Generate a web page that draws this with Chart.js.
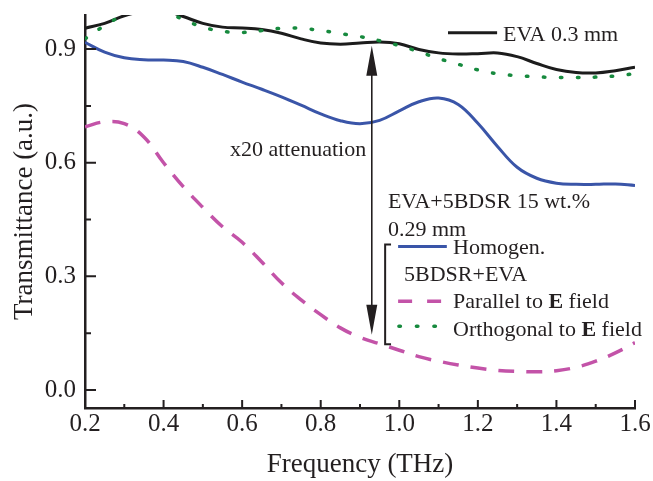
<!DOCTYPE html>
<html>
<head>
<meta charset="utf-8">
<script src="https://cdn.jsdelivr.net/npm/chart.js@4/dist/chart.umd.min.js"></script>
<style>
  html, body { margin: 0; padding: 0; background: #fff; }
  #wrap { width: 653px; height: 481px; }
</style>
</head>
<body>
<div id="wrap"><canvas id="c" width="653" height="481"></canvas></div>
<script>
// Frequency grid (THz)
const freq = [0.20, 0.25, 0.30, 0.35, 0.40, 0.45, 0.50, 0.55, 0.60, 0.65,
              0.70, 0.75, 0.80, 0.85, 0.90, 0.95, 1.00, 1.05, 1.10, 1.15,
              1.20, 1.25, 1.30, 1.35, 1.40, 1.45, 1.50, 1.55, 1.60];

// Pure EVA film, 0.3 mm
const evaFilm = [0.955, 0.968, 0.988, 1.000, 1.002, 0.986, 0.968, 0.958, 0.956, 0.952,
                 0.942, 0.927, 0.916, 0.913, 0.916, 0.919, 0.914, 0.899, 0.890, 0.887,
                 0.888, 0.890, 0.880, 0.862, 0.846, 0.838, 0.837, 0.843, 0.852];

// EVA + 5BDSR 15 wt.%, homogeneous
const homogen = [0.918, 0.892, 0.877, 0.872, 0.871, 0.867, 0.852, 0.833, 0.813, 0.794,
                 0.774, 0.752, 0.729, 0.711, 0.703, 0.712, 0.737, 0.761, 0.771, 0.754,
                 0.704, 0.643, 0.588, 0.559, 0.546, 0.543, 0.543, 0.544, 0.540];

// Oriented sample, polarisation parallel to E field (x20 attenuation)
const parallelE = [0.695, 0.708, 0.703, 0.668, 0.600, 0.537, 0.482, 0.431, 0.390, 0.338,
                   0.283, 0.238, 0.199, 0.164, 0.139, 0.122, 0.105, 0.088, 0.076, 0.066,
                   0.058, 0.052, 0.049, 0.048, 0.051, 0.060, 0.076, 0.098, 0.125];

// Oriented sample, polarisation orthogonal to E field
const orthogonalE = [0.927, 0.962, 0.990, 1.005, 1.000, 0.978, 0.958, 0.947, 0.944, 0.949,
                     0.955, 0.955, 0.949, 0.941, 0.933, 0.922, 0.909, 0.893, 0.875, 0.860,
                     0.845, 0.835, 0.830, 0.827, 0.825, 0.825, 0.826, 0.829, 0.835];

// Axis tick labels
const xTicks = [0.2, 0.4, 0.6, 0.8, 1.0, 1.2, 1.4, 1.6];
const yTicks = [0.0, 0.3, 0.6, 0.9];

const SERIF = "'Liberation Serif', 'Times New Roman', Times, serif";
const INK = '#231f20';

const toPoints = ys => freq.map((f, i) => ({ x: f, y: ys[i] }));

const lineBase = { pointRadius: 0, pointHoverRadius: 0, fill: false, tension: 0.4 };

const datasets = [
  Object.assign({ label: 'EVA 0.3 mm', data: toPoints(evaFilm),
    borderColor: '#1c1c1c', borderWidth: 3, order: 2,
    legendDash: [] }, lineBase),
  Object.assign({ label: 'Homogen. 5BDSR+EVA', data: toPoints(homogen),
    borderColor: '#3a55a8', borderWidth: 3, order: 3,
    legendDash: [] }, lineBase),
  Object.assign({ label: 'Parallel to E field', data: toPoints(parallelE),
    borderColor: '#c353a8', borderWidth: 3.5, borderDash: [16, 12], order: 4,
    legendDash: [14, 15] }, lineBase),
  Object.assign({ label: 'Orthogonal to E field', data: toPoints(orthogonalE),
    borderColor: '#178a3e', borderWidth: 3.5, borderDash: [1.5, 15.5], borderCapStyle: 'round', order: 1,
    legendDash: [1.5, 16] }, lineBase)
];

// Drop the automatic label overhang so the plot box is set by the layout padding alone
const noOverhang = s => { s.paddingTop = 0; s.paddingBottom = 0; s.paddingLeft = 0; s.paddingRight = 0; };

// Inward major / minor tick marks on the two axes
const tickMarks = {
  id: 'tickMarks',
  afterDraw(chart) {
    const { ctx, chartArea: a, scales: { x, y } } = chart;
    ctx.save();
    ctx.strokeStyle = INK;
    ctx.lineWidth = 2;
    const xMinor = xTicks.slice(1).map((v, i) => (v + xTicks[i]) / 2);
    const yMinor = yTicks.slice(1).map((v, i) => (v + yTicks[i]) / 2);
    ctx.beginPath();
    xTicks.forEach(v => { const p = x.getPixelForValue(v); ctx.moveTo(p, a.bottom); ctx.lineTo(p, a.bottom - 8); });
    xMinor.forEach(v => { const p = x.getPixelForValue(v); ctx.moveTo(p, a.bottom); ctx.lineTo(p, a.bottom - 4); });
    yTicks.forEach(v => { const p = y.getPixelForValue(v); ctx.moveTo(a.left, p); ctx.lineTo(a.left + 11, p); });
    yMinor.forEach(v => { const p = y.getPixelForValue(v); ctx.moveTo(a.left, p); ctx.lineTo(a.left + 6, p); });
    ctx.stroke();
    ctx.restore();
  }
};

// Attenuation arrow, sample labels and the legend
const annotations = {
  id: 'annotations',
  afterDraw(chart) {
    const { ctx, scales: { x, y } } = chart;
    const px = v => x.getPixelForValue(v);
    const py = v => y.getPixelForValue(v);
    const ds = chart.data.datasets;
    ctx.save();
    ctx.fillStyle = INK;
    ctx.strokeStyle = INK;
    ctx.textBaseline = 'alphabetic';
    ctx.textAlign = 'left';

    // double-headed arrow between the EVA curve and the parallel curve
    const ax = px(0.93), aTop = py(0.909), aBot = py(0.146);
    const headLen = 30, headHalf = 5.5;
    ctx.lineWidth = 1.6;
    ctx.beginPath();
    ctx.moveTo(ax, aTop + headLen - 2);
    ctx.lineTo(ax, aBot - headLen + 2);
    ctx.stroke();
    ctx.beginPath();
    ctx.moveTo(ax, aTop);
    ctx.lineTo(ax - headHalf, aTop + headLen);
    ctx.lineTo(ax + headHalf, aTop + headLen);
    ctx.closePath();
    ctx.moveTo(ax, aBot);
    ctx.lineTo(ax - headHalf, aBot - headLen);
    ctx.lineTo(ax + headHalf, aBot - headLen);
    ctx.closePath();
    ctx.fill();

    const regular = `22px ${SERIF}`;
    const bold = `bold 22px ${SERIF}`;
    const rich = (parts, x0, yb) => {
      let cx = x0;
      parts.forEach(p => {
        ctx.font = p.b ? bold : regular;
        ctx.fillText(p.t, cx, yb);
        cx += ctx.measureText(p.t).width;
      });
    };
    const sample = (d, x0, x1, yy) => {
      ctx.save();
      ctx.strokeStyle = d.borderColor;
      ctx.lineWidth = d.borderWidth;
      ctx.lineCap = d.borderCapStyle || 'butt';
      ctx.setLineDash(d.legendDash);
      ctx.beginPath();
      ctx.moveTo(x0, yy);
      ctx.lineTo(x1, yy);
      ctx.stroke();
      ctx.restore();
    };

    ctx.font = regular;
    ctx.fillText('x20 attenuation', px(0.569), py(0.617));

    // EVA reference entry
    sample(ds[0], px(1.124), px(1.249), py(0.943));
    rich([{ t: 'EVA 0.3 mm' }], px(1.264), py(0.922));

    // composite sample block
    rich([{ t: 'EVA+5BDSR 15 wt.%' }], px(0.971), py(0.481));
    rich([{ t: '0.29 mm' }], px(0.971), py(0.407));

    // bracket grouping the three composite curves
    const bx = px(0.964), bTop = py(0.384), bBot = py(0.121), foot = px(0.979);
    ctx.lineWidth = 2;
    ctx.beginPath();
    ctx.moveTo(foot, bTop);
    ctx.lineTo(bx, bTop);
    ctx.lineTo(bx, bBot);
    ctx.lineTo(foot, bBot);
    ctx.stroke();

    sample(ds[1], px(0.997), px(1.121), py(0.379));
    rich([{ t: 'Homogen.' }], px(1.137), py(0.358));
    rich([{ t: '5BDSR+EVA' }], px(1.012), py(0.288));

    sample(ds[2], px(0.997), px(1.107), py(0.234));
    rich([{ t: 'Parallel to ' }, { t: 'E', b: true }, { t: ' field' }], px(1.137), py(0.216));

    sample(ds[3], px(0.999), px(1.107), py(0.168));
    rich([{ t: 'Orthogonal to ' }, { t: 'E', b: true }, { t: ' field' }], px(1.137), py(0.142));

    ctx.restore();
  }
};

new Chart(document.getElementById('c'), {
  type: 'line',
  data: { datasets },
  options: {
    responsive: false,
    animation: false,
    devicePixelRatio: 1,
    layout: { padding: { top: 15, right: 18, left: 0, bottom: 0 } },
    plugins: { legend: { display: false }, tooltip: { enabled: false } },
    scales: {
      x: {
        type: 'linear',
        min: 0.2, max: 1.6,
        afterBuildTicks: s => { s.ticks = xTicks.map(v => ({ value: v })); },
        afterFit: s => { s.height = 73; noOverhang(s); },
        grid: { display: false, drawTicks: false },
        border: { display: true, color: INK, width: 2.5 },
        ticks: {
          autoSkip: false, maxRotation: 0, padding: 1,
          color: INK, font: { family: SERIF, size: 25 },
          callback: v => Number(v).toFixed(1)
        },
        title: {
          display: true, text: 'Frequency (THz)', color: INK,
          font: { family: SERIF, size: 27 }, padding: { top: 0, bottom: 0 }
        }
      },
      y: {
        type: 'linear',
        min: -0.0475, max: 0.990,
        afterBuildTicks: s => { s.ticks = yTicks.map(v => ({ value: v })); },
        afterFit: s => { s.width = 85; noOverhang(s); },
        grid: { display: false, drawTicks: false },
        border: { display: true, color: INK, width: 2.5 },
        ticks: {
          autoSkip: false, padding: 9,
          color: INK, font: { family: SERIF, size: 25 },
          callback: v => Number(v).toFixed(1)
        },
        title: {
          display: true, text: 'Transmittance (a.u.)', color: INK,
          font: { family: SERIF, size: 27 }, padding: { top: 9, bottom: 0 }
        }
      }
    }
  },
  plugins: [tickMarks, annotations]
});
</script>
</body>
</html>
